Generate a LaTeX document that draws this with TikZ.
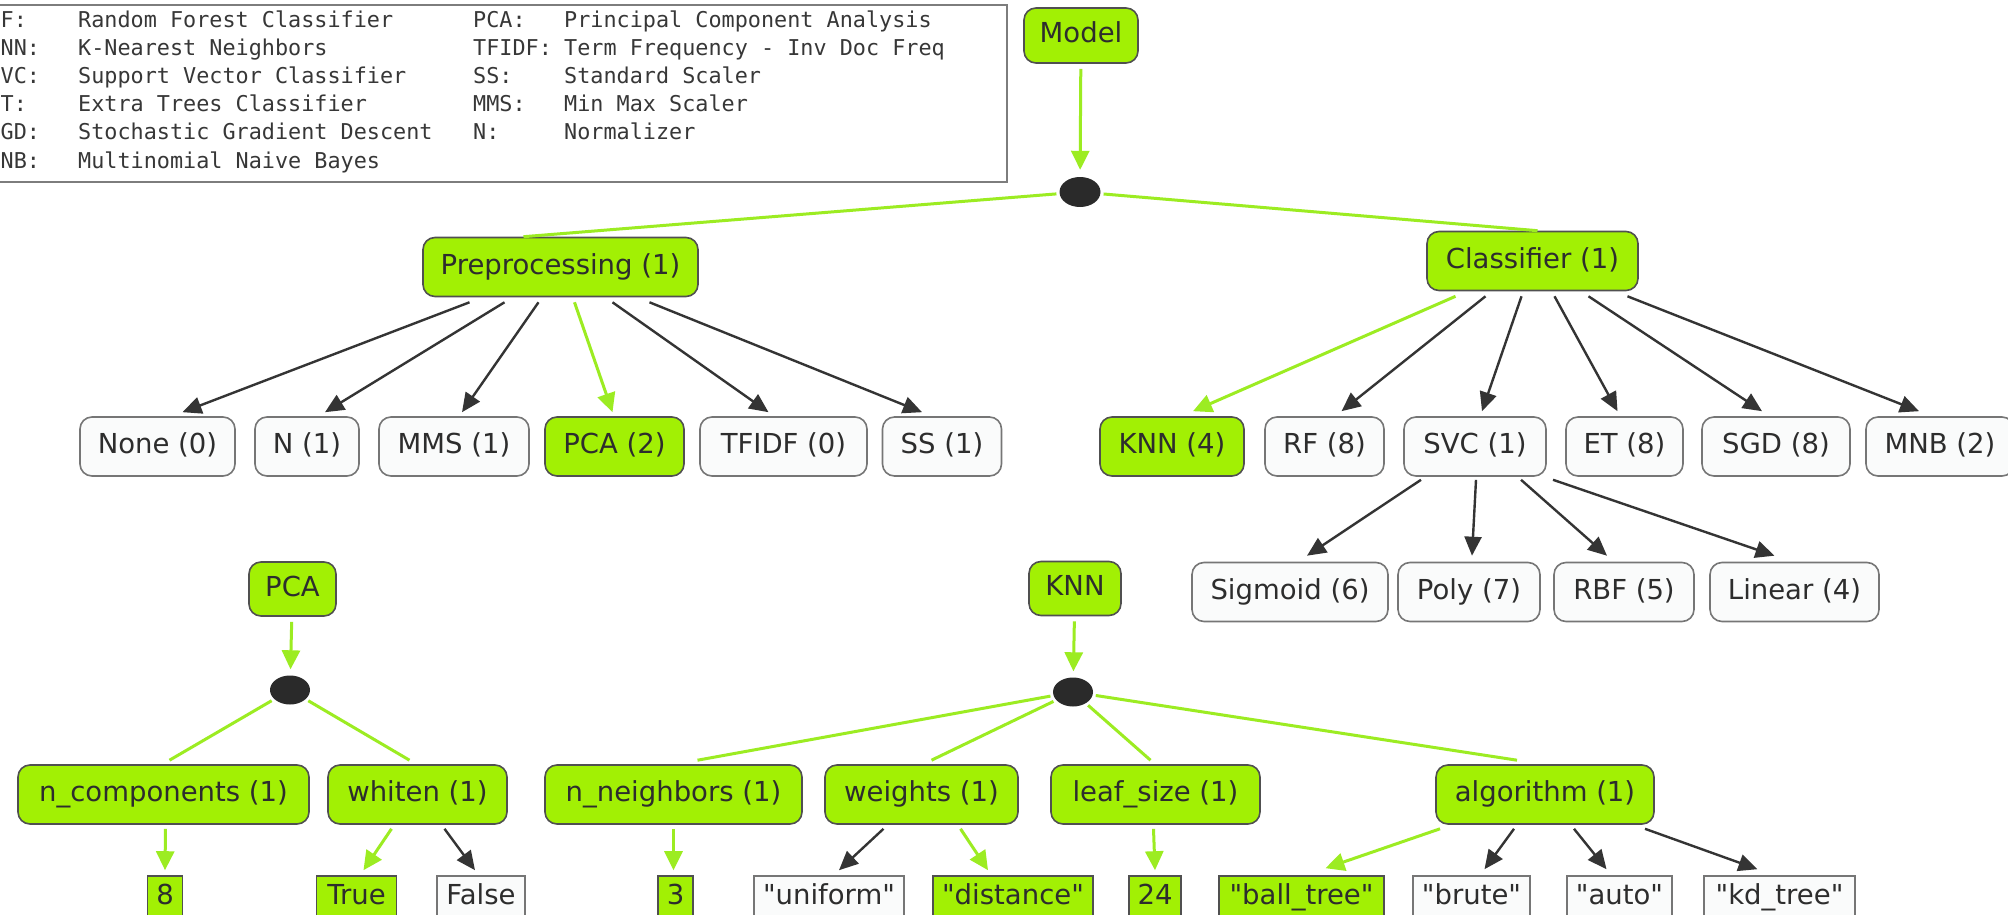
\documentclass[tikz,border=0pt]{standalone}
\usepackage{fontspec}
\setmainfont{DejaVu Sans}
\newfontfamily\legendfont{DejaVu Sans Mono}
\usetikzlibrary{arrows.meta,shapes.geometric}

\definecolor{lime}{RGB}{162,240,4}
\definecolor{limeline}{RGB}{156,236,34}
\definecolor{boxedge}{RGB}{80,80,80}
\definecolor{paleedge}{RGB}{118,118,118}
\definecolor{palefill}{RGB}{250,251,251}
\definecolor{ink}{RGB}{45,45,45}
\definecolor{legendink}{RGB}{55,55,55}
\definecolor{darkarrow}{RGB}{52,52,52}
\definecolor{dotfill}{RGB}{42,42,42}
\definecolor{frame}{RGB}{125,125,125}

\newcommand{\nodefont}{\fontsize{27.5pt}{33pt}\selectfont}
\newcommand{\dq}{\textquotedbl}

\tikzset{
  roundbox/.style={draw, rounded corners=12pt, line width=1.6pt,
    text height=20.5pt, text depth=6pt, minimum height=59pt,
    inner xsep=4pt, font=\nodefont, text=ink},
  gbox/.style={roundbox, fill=lime, draw=boxedge},
  wbox/.style={roundbox, fill=palefill, draw=paleedge},
  headbox/.style={gbox, minimum height=54pt},
  valbox/.style={draw, line width=1.6pt, text height=20.5pt, text depth=6pt,
    minimum height=42pt, inner xsep=4pt, font=\nodefont, text=ink},
  gval/.style={valbox, fill=lime, draw=boxedge},
  wval/.style={valbox, fill=palefill, draw=paleedge},
  joint/.style={ellipse, fill=dotfill, draw=none, minimum width=41pt,
    minimum height=30pt, inner sep=0pt},
  glink/.style={draw=limeline, line width=3pt},
  garrow/.style={glink, -{Triangle[width=18pt,length=19pt]}},
  darrow/.style={draw=darkarrow, line width=2.4pt, -{Triangle[width=17pt,length=19pt]}},
  legendtext/.style={anchor=base west, inner sep=0pt,
    font=\legendfont\fontsize{21.8pt}{26pt}\selectfont, text=legendink},
  legendframe/.style={draw=frame, line width=2.4pt, fill=white, inner sep=0pt,
    anchor=north east, minimum width=1030pt, minimum height=177pt}
}

\begin{document}
\begin{tikzpicture}[x=1pt, y=-1pt]
\useasboundingbox (0,0) rectangle (2008,915);
\fill[white] (0,0) rectangle (2008,915);
\clip (0,0) rectangle (2008,915);

% ---- legend of abbreviations ----
\node[legendframe] (legend) at (1008,4) {};
\node[legendtext] (lgRF)    at (0.5,28)  {F:};
\node[legendtext] (lgRFd)   at (78,28)   {Random Forest Classifier};
\node[legendtext] (lgKNN)   at (0.5,56)  {NN:};
\node[legendtext] (lgKNNd)  at (78,56)   {K-Nearest Neighbors};
\node[legendtext] (lgSVC)   at (0.5,84)  {VC:};
\node[legendtext] (lgSVCd)  at (78,84)   {Support Vector Classifier};
\node[legendtext] (lgET)    at (0.5,112) {T:};
\node[legendtext] (lgETd)   at (78,112)  {Extra Trees Classifier};
\node[legendtext] (lgSGD)   at (0.5,140) {GD:};
\node[legendtext] (lgSGDd)  at (78,140)  {Stochastic Gradient Descent};
\node[legendtext] (lgMNB)   at (0.5,168) {NB:};
\node[legendtext] (lgMNBd)  at (78,168)  {Multinomial Naive Bayes};
\node[legendtext] (lgPCA)   at (473,28)  {PCA:};
\node[legendtext] (lgPCAd)  at (564,28)  {Principal Component Analysis};
\node[legendtext] (lgTF)    at (473,56)  {TFIDF:};
\node[legendtext] (lgTFd)   at (564,56)  {Term Frequency - Inv Doc Freq};
\node[legendtext] (lgSS)    at (473,84)  {SS:};
\node[legendtext] (lgSSd)   at (564,84)  {Standard Scaler};
\node[legendtext] (lgMMS)   at (473,112) {MMS:};
\node[legendtext] (lgMMSd)  at (564,112) {Min Max Scaler};
\node[legendtext] (lgN)     at (473,140) {N:};
\node[legendtext] (lgNd)    at (564,140) {Normalizer};

% ---- model tree ----
\node[headbox, minimum width=114pt, minimum height=55pt] (model) at (1081,35.5) {Model};
\node[joint] (topdot) at (1080,192) {};
\node[gbox, minimum width=275pt] (pre) at (560.5,267) {Preprocessing (1)};
\node[gbox, minimum width=211pt] (cls) at (1532.5,261) {Classifier (1)};

\node[wbox, minimum width=155pt] (none)   at (157.5,446.5) {None (0)};
\node[wbox, minimum width=104pt] (nrm)    at (307,446.5)   {N (1)};
\node[wbox, minimum width=150pt] (mms)    at (454,446.5)   {MMS (1)};
\node[gbox, minimum width=139pt] (pcaopt) at (614.5,446.5) {PCA (2)};
\node[wbox, minimum width=167pt] (tfidf)  at (783.5,446.5) {TFIDF (0)};
\node[wbox, minimum width=119pt] (ss)     at (942,446.5)   {SS (1)};
\node[gbox, minimum width=144pt] (knnopt) at (1172,446.5)  {KNN (4)};
\node[wbox, minimum width=119pt] (rf)     at (1324.5,446.5) {RF (8)};
\node[wbox, minimum width=142pt] (svc)    at (1475,446.5)  {SVC (1)};
\node[wbox, minimum width=117pt] (et)     at (1624.5,446.5) {ET (8)};
\node[wbox, minimum width=148pt] (sgd)    at (1776,446.5)  {SGD (8)};
\node[wbox, minimum width=148pt] (mnb)    at (1940,446.5)  {MNB (2)};

\node[wbox, minimum width=196pt] (sigmoid) at (1290,592)   {Sigmoid (6)};
\node[wbox, minimum width=142pt] (poly)    at (1469,592)   {Poly (7)};
\node[wbox, minimum width=140pt] (rbf)     at (1624,592)   {RBF (5)};
\node[wbox, minimum width=169pt] (linear)  at (1794.5,592) {Linear (4)};

\draw[garrow, shorten <=5pt, shorten >=7pt] (model) -- (topdot);
\draw[glink, shorten <=3pt] (topdot) -- ([xshift=-37pt]pre.north);
\draw[glink, shorten <=3pt] (topdot) -- ([xshift=5pt]cls.north);

\draw[darrow] ([xshift=-91pt,yshift=-5pt]pre.south) -- ([xshift=25pt,yshift=4pt]none.north);
\draw[darrow] ([xshift=-56pt,yshift=-5pt]pre.south) -- ([xshift=18pt,yshift=4pt]nrm.north);
\draw[darrow] ([xshift=-22pt,yshift=-5pt]pre.south) -- ([xshift=8pt,yshift=4pt]mms.north);
\draw[garrow] ([xshift=14pt,yshift=-5pt]pre.south)  -- ([xshift=-2pt,yshift=4pt]pcaopt.north);
\draw[darrow] ([xshift=52pt,yshift=-5pt]pre.south)  -- ([xshift=-15pt,yshift=4pt]tfidf.north);
\draw[darrow] ([xshift=89pt,yshift=-5pt]pre.south)  -- ([xshift=-20pt,yshift=4pt]ss.north);

\draw[garrow] ([xshift=-77pt,yshift=-5pt]cls.south) -- ([xshift=21pt,yshift=5pt]knnopt.north);
\draw[darrow] ([xshift=-47pt,yshift=-5pt]cls.south) -- ([xshift=17pt,yshift=5pt]rf.north);
\draw[darrow] ([xshift=-11pt,yshift=-5pt]cls.south) -- ([xshift=7pt,yshift=5pt]svc.north);
\draw[darrow] ([xshift=22pt,yshift=-5pt]cls.south)  -- ([xshift=-7pt,yshift=5pt]et.north);
\draw[darrow] ([xshift=56pt,yshift=-5pt]cls.south)  -- ([xshift=-14pt,yshift=5pt]sgd.north);
\draw[darrow] ([xshift=95pt,yshift=-5pt]cls.south)  -- ([xshift=-21pt,yshift=5pt]mnb.north);

\draw[darrow] ([xshift=-54pt,yshift=-3pt]svc.south) -- ([xshift=17pt,yshift=6pt]sigmoid.north);
\draw[darrow] ([xshift=1pt,yshift=-3pt]svc.south)   -- ([xshift=3pt,yshift=6pt]poly.north);
\draw[darrow] ([xshift=46pt,yshift=-3pt]svc.south)  -- ([xshift=-17pt,yshift=6pt]rbf.north);
\draw[darrow] ([xshift=78pt,yshift=-3pt]svc.south)  -- ([xshift=-20pt,yshift=6pt]linear.north);

% ---- PCA parameter tree ----
\node[headbox, minimum width=87pt] (pcahead) at (292.5,589) {PCA};
\node[joint, minimum width=40pt, minimum height=29pt] (pcadot) at (290,690) {};
\node[gbox, minimum width=291pt] (ncomp)  at (163.5,794.5) {n\_components (1)};
\node[gbox, minimum width=179pt] (whiten) at (417.5,794.5) {whiten (1)};
\node[gval, minimum width=35pt] (v8)     at (165,897)   {8};
\node[gval, minimum width=80pt] (vtrue)  at (356.5,897) {True};
\node[wval, minimum width=88pt] (vfalse) at (481,897)   {False};

\draw[garrow, shorten <=5pt, shorten >=6pt] (pcahead) -- (pcadot);
\draw[glink, shorten <=3pt] (pcadot) -- ([xshift=6pt,yshift=4pt]ncomp.north);
\draw[glink, shorten <=3pt] (pcadot) -- ([xshift=-8pt,yshift=4pt]whiten.north);
\draw[garrow] ([xshift=2pt,yshift=-4pt]ncomp.south)    -- ([yshift=5pt]v8.north);
\draw[garrow] ([xshift=-26pt,yshift=-4pt]whiten.south) -- ([xshift=7pt,yshift=5pt]vtrue.north);
\draw[darrow] ([xshift=27pt,yshift=-4pt]whiten.south)  -- ([xshift=-6pt,yshift=5pt]vfalse.north);

% ---- KNN parameter tree ----
\node[headbox, minimum width=92pt] (knnhead) at (1075,588.5) {KNN};
\node[joint, minimum width=40pt, minimum height=29pt] (knndot) at (1073,692) {};
\node[gbox, minimum width=257pt] (nneigh)  at (673.5,794.5)  {n\_neighbors (1)};
\node[gbox, minimum width=193pt] (weights) at (921.5,794.5)  {weights (1)};
\node[gbox, minimum width=209pt] (leaf)    at (1155.5,794.5) {leaf\_size (1)};
\node[gbox, minimum width=218pt] (algo)    at (1545,794.5)   {algorithm (1)};
\node[gval, minimum width=35pt]  (v3)     at (675.5,897)  {3};
\node[wval, minimum width=150pt] (vuni)   at (829,897)    {\dq uniform\dq};
\node[gval, minimum width=160pt] (vdist)  at (1013,897)   {\dq distance\dq};
\node[gval, minimum width=52pt]  (v24)    at (1155,897)   {24};
\node[gval, minimum width=165pt] (vball)  at (1301.5,897) {\dq ball\_tree\dq};
\node[wval, minimum width=117pt] (vbrute) at (1471.5,897) {\dq brute\dq};
\node[wval, minimum width=105pt] (vauto)  at (1619.5,897) {\dq auto\dq};
\node[wval, minimum width=151pt] (vkd)    at (1779.5,897) {\dq kd\_tree\dq};

\draw[garrow, shorten <=5pt, shorten >=6pt] (knnhead) -- (knndot);
\draw[glink, shorten <=3pt] (knndot) -- ([xshift=24pt,yshift=4pt]nneigh.north);
\draw[glink, shorten <=3pt] (knndot) -- ([xshift=10pt,yshift=4pt]weights.north);
\draw[glink, shorten <=3pt] (knndot) -- ([xshift=-5pt,yshift=4pt]leaf.north);
\draw[glink, shorten <=3pt] (knndot) -- ([xshift=-28pt,yshift=4pt]algo.north);

\draw[garrow] ([yshift=-4pt]nneigh.south)               -- ([xshift=-2pt,yshift=5pt]v3.north);
\draw[darrow] ([xshift=-38pt,yshift=-4pt]weights.south) -- ([xshift=10pt,yshift=5pt]vuni.north);
\draw[garrow] ([xshift=39pt,yshift=-4pt]weights.south)  -- ([xshift=-25pt,yshift=5pt]vdist.north);
\draw[garrow] ([xshift=-2pt,yshift=-4pt]leaf.south)     -- ([yshift=5pt]v24.north);
\draw[garrow] ([xshift=-105pt,yshift=-4pt]algo.south)   -- ([xshift=24pt,yshift=7pt]vball.north);
\draw[darrow] ([xshift=-31pt,yshift=-4pt]algo.south)    -- ([xshift=13pt,yshift=6pt]vbrute.north);
\draw[darrow] ([xshift=29pt,yshift=-4pt]algo.south)     -- ([xshift=-13pt,yshift=6pt]vauto.north);
\draw[darrow] ([xshift=100pt,yshift=-4pt]algo.south)    -- ([xshift=-22pt,yshift=6pt]vkd.north);
\end{tikzpicture}
\end{document}
